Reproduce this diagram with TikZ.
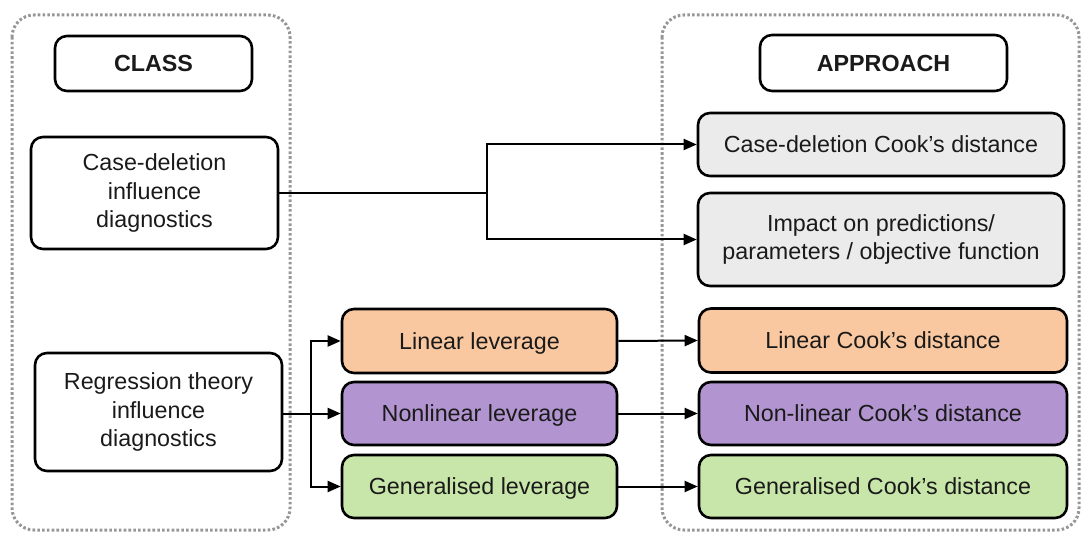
\documentclass[tikz,border=0pt]{standalone}
\usepackage{fontspec}
\setmainfont{Liberation Sans}
\usetikzlibrary{arrows.meta}
\definecolor{cOrange}{HTML}{FAC8A0}
\definecolor{cPurple}{HTML}{B194D0}
\definecolor{cGreen}{HTML}{C8E6A9}
\definecolor{cGrey}{HTML}{EBEBEB}
\definecolor{cDot}{HTML}{969696}
\definecolor{cText}{HTML}{1A1A1A}
\begin{document}
\begin{tikzpicture}[x=1pt,y=-1pt,
  container/.style={draw=cDot, line width=3pt, dash pattern=on 2.6pt off 2.2pt, rounded corners=22pt},
  box/.style={draw=black, line width=2.6pt, rounded corners=12pt, inner sep=0pt, align=center,
    text=cText, font=\fontsize{23.3}{28.5}\selectfont},
  one/.style={box, text depth=0pt},
  head/.style={one, font=\fontsize{23.3}{28}\selectfont\bfseries},
  arr/.style={draw=black, line width=2pt, -{Triangle[length=13pt,width=11pt]}},
  ln/.style={draw=black, line width=2pt}
]
\useasboundingbox (0,0) rectangle (1084,534);
% containers
\draw[container] (12,15) rectangle (290,530);
\draw[container] (662,15) rectangle (1079,530);
% headers
\node[head, minimum width=197pt, minimum height=55pt] (class) at (153.5,63.5) {CLASS};
\node[head, minimum width=247pt, minimum height=56pt] (approach) at (883.5,63) {APPROACH};
% class boxes
\node[box, minimum width=247pt, minimum height=112pt] (case) at (154.5,193) {Case-deletion\\influence\\diagnostics};
\node[box, minimum width=247pt, minimum height=118pt] (reg) at (158.5,412) {Regression theory\\influence\\diagnostics};
% approach top
\node[one, fill=cGrey, minimum width=366pt, minimum height=63pt] (cdc) at (881,144.5) {Case-deletion Cook’s distance};
\node[box, fill=cGrey, minimum width=366pt, minimum height=93pt] (imp) at (881,239.5) {Impact on predictions/\\parameters / objective function};
% leverage
\node[one, fill=cOrange, minimum width=275pt, minimum height=64pt] (ll) at (479.5,341) {Linear leverage};
\node[one, fill=cPurple, minimum width=275pt, minimum height=63pt] (nl) at (479.5,413.5) {Nonlinear leverage};
\node[one, fill=cGreen, minimum width=275pt, minimum height=63pt] (gl) at (479.5,486.5) {Generalised leverage};
% cook's
\node[one, fill=cOrange, minimum width=368pt, minimum height=64pt] (lc) at (883,340.5) {Linear Cook’s distance};
\node[one, fill=cPurple, minimum width=368pt, minimum height=63pt] (nc) at (883,413.5) {Non-linear Cook’s distance};
\node[one, fill=cGreen, minimum width=368pt, minimum height=63pt] (gc) at (883,486.5) {Generalised Cook’s distance};
% connectors
\coordinate (j1) at (487,193);
\coordinate (j2) at (311,413.5);
\draw[ln] (case.east) -- (j1);
\draw[arr] (j1) |- (cdc.west);
\draw[arr] (j1) |- (imp.west);
\draw[arr] (reg.east |- nl.west) -- (nl.west);
\draw[arr] (j2) |- (ll.west);
\draw[arr] (j2) |- (gl.west);
\draw[arr] (ll.east) -- (lc.west);
\draw[arr] (nl.east) -- (nc.west);
\draw[arr] (gl.east) -- (gc.west);
\end{tikzpicture}
\end{document}
